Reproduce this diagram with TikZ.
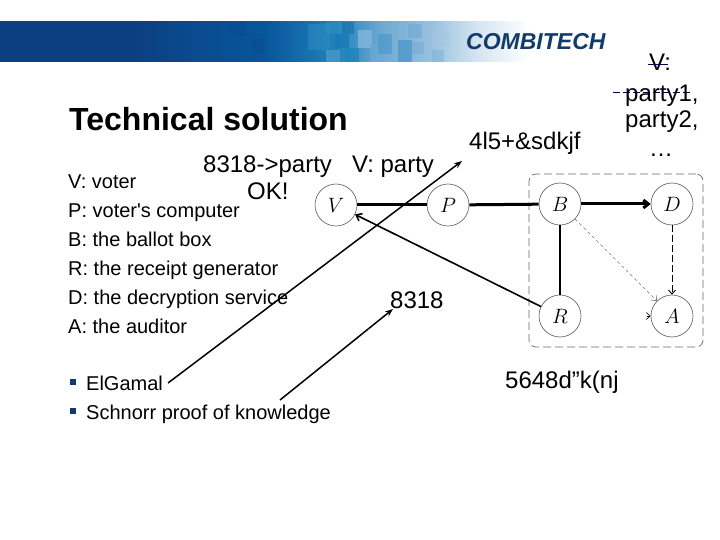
\documentclass[tikz,border=0pt]{standalone}
\usepackage{fontspec}
\setmainfont{Liberation Sans}
\newfontfamily\plainf{Liberation Sans}
\usetikzlibrary{arrows.meta}
\definecolor{b0}{HTML}{0C3F82}
\definecolor{b1}{HTML}{07569C}
\definecolor{b2}{HTML}{2483BC}
\definecolor{b3}{HTML}{6FA9D2}
\definecolor{b4}{HTML}{9CC3E0}
\definecolor{b5}{HTML}{D5E5F1}
\definecolor{logoblue}{HTML}{123A6B}
\pgfdeclarehorizontalshading{bannershade}{100bp}{
  color(0bp)=(b0); color(37.5bp)=(b0); color(50bp)=(b1); color(57bp)=(b2);
  color(61bp)=(b3); color(66bp)=(b4); color(70bp)=(b5); color(75bp)=(white); color(100bp)=(white)}
\tikzset{
  txt/.style={anchor=base west,inner sep=0pt,font=\fontsize{20}{20}\selectfont},
  big/.style={anchor=base west,inner sep=0pt,font=\fontsize{24}{24}\selectfont},
  party/.style={circle,draw=black!65,line width=0.6pt,minimum size=42pt,inner sep=0pt,font=\fontsize{22}{22}\selectfont},
  heavy/.style={line width=3pt,black},
  callout/.style={-{Stealth[length=8pt,width=6pt]},line width=1.5pt,black},
  bulletmark/.style={fill=logoblue,minimum size=6.5pt,inner sep=0pt,rectangle}
}
\begin{document}
\begin{tikzpicture}[x=1pt,y=-1pt]
\useasboundingbox (0,0) rectangle (720,540);
% banner
\shade[shading=bannershade] (0,22) rectangle (530,62);
\foreach \x/\y/\w/\h/\c/\o in {
 230/22/16/14/0A4C90/.5, 252/38/12/16/0A4A8E/.5, 308/24/22/26/2C8FC4/.5, 326/22/16/12/2E92C4/.5,
 342/22/12/12/1670AC/.6, 335/34/14/14/1276B4/.6, 358/30/14/18/8ABADD/.7, 345/48/14/14/1A85BE/.7,
 326/50/14/12/4C9CCB/.7, 370/44/10/18/6FAAD4/.6, 378/34/14/20/3E93C6/.5, 398/40/14/22/3B8FC4/.6,
 412/42/12/12/75ABD2/.5, 408/24/14/14/5FA0CE/.4, 432/32/18/14/A5C8E2/.5, 432/50/12/12/5E9FCC/.25}
{\definecolor{sq}{HTML}{\c}\fill[sq,opacity=\o] (\x,\y) rectangle +(\w,\h);}
\node[anchor=base west,inner sep=0pt,text=logoblue,font=\fontsize{23}{23}\selectfont\bfseries\itshape] (logo) at (466,50) {COMBITECH};
% texts
\node[anchor=base west,inner sep=0pt,font=\fontsize{32}{32}\selectfont\bfseries] (title) at (69,131) {Technical solution};
\node[txt] (lv) at (68,189) {V: voter};
\node[txt] (lp) at (68,218) {P: voter{\plainf '}s computer};
\node[txt] (lb) at (68,247) {B: the ballot box};
\node[txt] (lr) at (68,275) {R: the receipt generator};
\node[txt] (ld) at (68,304) {D: the decryption service};
\node[txt] (la) at (68,333) {A: the auditor};
\node[bulletmark] (b1) at (73,382) {};
\node[bulletmark] (b2) at (73,411) {};
\node[txt] (elg) at (86,390) {ElGamal};
\node[txt] (sch) at (86,419) {Schnorr proof of knowledge};
\node[big] (t1) at (203,173) {8318->party};
\node[big] (t2) at (352,173) {V: party};
\node[big] (ok) at (247,200) {OK!};
\node[big] (t3) at (390,308) {8318};
\node[big] (t4) at (469,150) {4l5+\&sdkjf};
\node[big] (t5) at (505,388) {5648d”k(nj};
\node[big] (r1) at (649,71) {V:};
\node[big] (r2) at (625,102) {party1,};
\node[big] (r3) at (625,128) {party2,};
\node[big] (r4) at (649,157) {…};
% strike marks
\coordinate (s1) at (648,64); \coordinate (s2) at (668,64);
\coordinate (s3) at (613,92); \coordinate (s4) at (691,92);
\draw[black!70!blue,line width=0.9pt] (s1) -- (s2);
\draw[black!70!blue,line width=0.9pt,dash pattern=on 7pt off 3pt] (s3) -- (s4);
% graph
\node[draw=black!60,rounded corners=7pt,line width=0.7pt,minimum width=174pt,minimum height=173pt,inner sep=0pt,dash pattern=on 8pt off 4pt] (box) at (616,260.5) {};
\node[party] (V) at (336,205) {$V$};
\node[party] (P) at (448,205) {$P$};
\node[party] (B) at (560,204) {$B$};
\node[party] (D) at (672,204) {$D$};
\node[party] (R) at (560,316) {$R$};
\node[party] (A) at (672,316) {$A$};
\draw[heavy] (V) -- (P);
\draw[heavy] (P) -- (B);
\draw[heavy,-{Straight Barb[length=5pt,width=8pt]}] (B) -- (D);
\draw[line width=2.4pt,black] (B) -- (R);
\draw[line width=1.6pt,-{Straight Barb[length=5pt,width=8pt]}] (R) -- (V);
\draw[black!55,line width=0.6pt,dashed,-{Straight Barb[length=4pt,width=7pt]}] (B) -- (A);
\draw[black,line width=0.9pt,dash pattern=on 7pt off 3pt,-{Straight Barb[length=4pt,width=7pt]}] (D) -- (A);
\coordinate (tickA) at (646.5,316);
\draw[black,line width=0.6pt,-{Straight Barb[length=4pt,width=7pt]}] (tickA) -- (A.west);
% callouts
\coordinate (c1) at (462,161);
\coordinate (c2) at (393,309);
\coordinate (o1) at (168,383);
\coordinate (o2) at (280,400);
\draw[callout] (o1) -- (c1);
\draw[callout] (o2) -- (c2);
\end{tikzpicture}
\end{document}
